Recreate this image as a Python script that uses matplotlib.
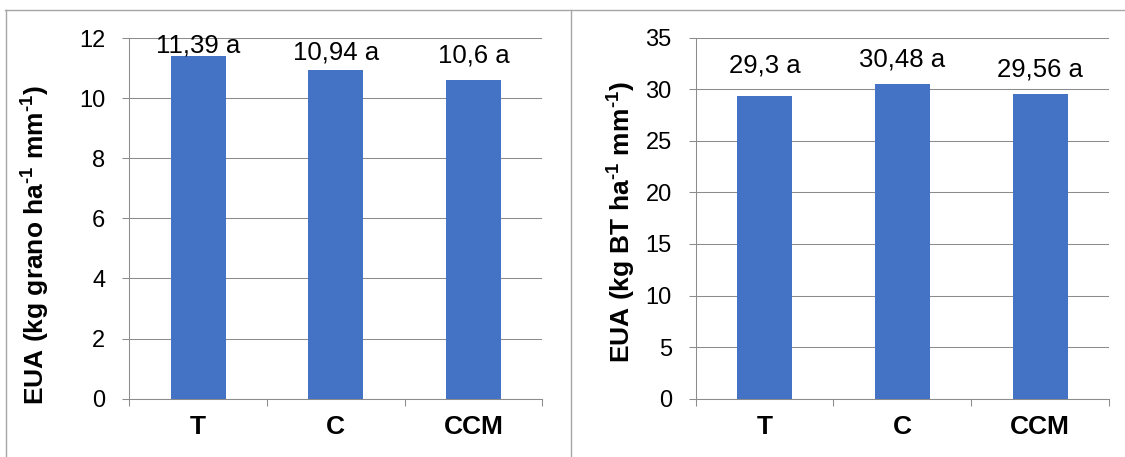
import matplotlib
matplotlib.use('Agg')
import matplotlib.pyplot as plt
from matplotlib.lines import Line2D

# ---- data ----
categories = ['T', 'C', 'CCM']
grain_eua = [11.39, 10.94, 10.6]
grain_labels = ['11,39 a', '10,94 a', '10,6 a']
grain_ticks = [0, 2, 4, 6, 8, 10, 12]
biomass_eua = [29.3, 30.48, 29.56]
biomass_labels = ['29,3 a', '30,48 a', '29,56 a']
biomass_ticks = [0, 5, 10, 15, 20, 25, 30, 35]
grain_ylabel = 'EUA (kg grano ha$^{\\mathbf{\u2010}\\mathbf{1}}$ mm$^{\\mathbf{\u2010}\\mathbf{1}}$)'
biomass_ylabel = 'EUA (kg BT ha$^{\\mathbf{\u2010}\\mathbf{1}}$ mm$^{\\mathbf{\u2010}\\mathbf{1}}$)'

# label offsets above bar tops (points) - style only
grain_label_offsets = [3, 7.5, 12.7]
biomass_label_offsets = [17, 13, 12.7]

plt.rcParams['font.family'] = ['Liberation Sans', 'DejaVu Sans']
plt.rcParams['mathtext.fontset'] = 'custom'
plt.rcParams['mathtext.rm'] = 'Liberation Sans'
plt.rcParams['mathtext.bf'] = 'Liberation Sans:bold'

W, H = 1125, 457
fig = plt.figure(figsize=(W / 100, H / 100), dpi=100)
fig.patch.set_facecolor('white')

BAR = '#4472C4'
GRID = '#8c8c8c'
BORDER = '#a6a6a6'


def px_axes(x0, x1, ytop, ybot):
    return fig.add_axes([x0 / W, 1 - ybot / H, (x1 - x0) / W, (ybot - ytop) / H])


def draw(ax, values, labels, ticks, offsets):
    x = list(range(len(categories)))
    ax.bar(x, values, width=0.4, color=BAR, zorder=3)
    ax.set_xlim(-0.5, len(categories) - 0.5)
    ax.set_ylim(ticks[0], ticks[-1])
    ax.set_yticks(ticks)
    ax.set_yticklabels([str(t) for t in ticks])
    ax.set_xticks(x)
    ax.set_xticklabels(categories, fontsize=19, fontweight='bold')
    ax.set_xticks([i - 0.5 for i in range(len(categories) + 1)], minor=True)
    ax.tick_params(axis='x', which='major', length=0, pad=12)
    ax.tick_params(axis='x', which='minor', length=5.2, width=0.75,
                   color=GRID, direction='out')
    ax.tick_params(axis='y', which='major', length=5.2, width=0.75,
                   color=GRID, direction='out', pad=12, labelsize=17)
    ax.yaxis.grid(True, color=GRID, linewidth=0.75, zorder=0)
    ax.set_axisbelow(True)
    for s in ['top', 'right']:
        ax.spines[s].set_visible(False)
    for s in ['left', 'bottom']:
        ax.spines[s].set_color(GRID)
        ax.spines[s].set_linewidth(0.75)
    for i, (v, t) in enumerate(zip(values, labels)):
        ax.annotate(t, (i, v), xytext=(0, offsets[i]), textcoords='offset points',
                    ha='center', va='baseline', fontsize=18.5, annotation_clip=False)


ax1 = px_axes(129.3, 542.3, 38, 398.7)
draw(ax1, grain_eua, grain_labels, grain_ticks, grain_label_offsets)
ax2 = px_axes(695.7, 1109, 37.7, 398.7)
draw(ax2, biomass_eua, biomass_labels, biomass_ticks, biomass_label_offsets)

fig.text(35 / W, 1 - 245 / H, grain_ylabel, rotation=90, ha='center', va='center',
         fontsize=19, fontweight='bold')
fig.text(621 / W, 1 - 222 / H, biomass_ylabel, rotation=90, ha='center', va='center',
         fontsize=19, fontweight='bold')


def fline(xs, ys):
    fig.add_artist(Line2D([v / W for v in xs], [1 - v / H for v in ys],
                          color=BORDER, linewidth=1.0))


fline([5, 1125], [9.5, 9.5])
fline([5.5, 5.5], [9.5, 457])
fline([571, 571], [9.5, 457])

fig.savefig('out.png', dpi=100, facecolor='white')
